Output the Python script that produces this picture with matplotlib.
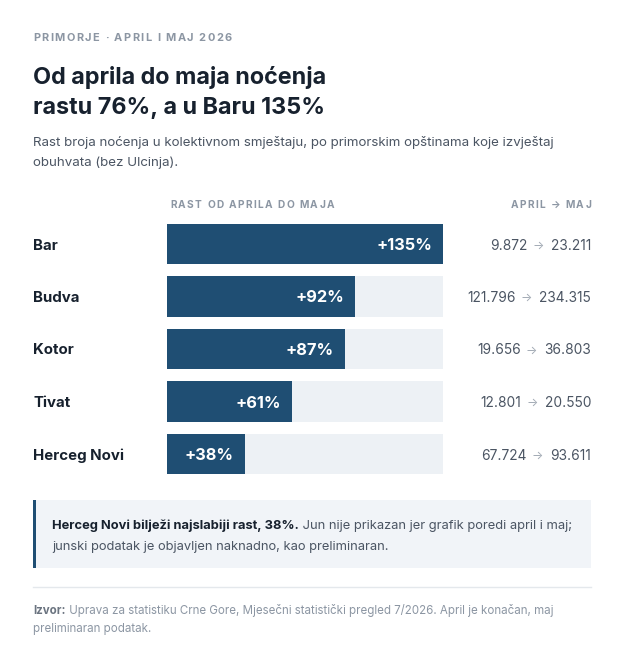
"""Noćenja na primorju: rast od aprila do maja 2026"""

import matplotlib

matplotlib.use("Agg")
import matplotlib.pyplot as plt
from matplotlib.patches import Rectangle
from matplotlib.transforms import blended_transform_factory

plt.rcParams["font.family"] = ["Inter", "DejaVu Sans"]

# Data
cities = ["Bar", "Budva", "Kotor", "Tivat", "Herceg Novi"]
april = [9872, 121796, 19656, 12801, 67724]
may = [23211, 234315, 36803, 20550, 93611]
growth = [round((m / a - 1) * 100) for a, m in zip(april, may)]

# Colours
DARK = "#17212e"
BAR = "#1f4e73"
TRACK = "#edf1f5"
GRAY = "#4b5563"
LIGHT = "#8c96a3"
BOX = "#f1f4f8"

W, H = 624, 659
fig = plt.figure(figsize=(W / 100, H / 100), dpi=100)
fig.patch.set_facecolor("white")

# overlay axes in pixel coordinates for layout text
page = fig.add_axes([0, 0, 1, 1])
page.set_xlim(0, W)
page.set_ylim(H, 0)
page.axis("off")


def px(v):
    return v * 0.72


def spaced(x, y, s, size, color, spacing, ha="left", weight="bold"):
    """Letter-spaced text, drawn one character at a time"""
    chars = s if ha == "left" else s[::-1]
    t = page.text(x, y, chars[0], fontsize=size, color=color, weight=weight,
                  ha=ha, va="baseline")
    for ch in chars[1:]:
        if ha == "left":
            t = page.annotate(ch, xy=(1, 0), xycoords=t, xytext=(px(spacing), 0),
                              textcoords="offset points", fontsize=size, color=color,
                              weight=weight, ha="left", va="bottom")
        else:
            t = page.annotate(ch, xy=(0, 0), xycoords=t, xytext=(-px(spacing), 0),
                              textcoords="offset points", fontsize=size, color=color,
                              weight=weight, ha="right", va="bottom")
    return t


# Header
spaced(33, 41, "PRIMORJE · APRIL I MAJ 2026", 7.9, LIGHT, 1.45)
page.text(33, 84, "Od aprila do maja noćenja", fontsize=16.8, weight="bold", color=DARK)
page.text(33, 114, "rastu 76%, a u Baru 135%", fontsize=16.8, weight="bold", color=DARK)
page.text(33, 146, "Rast broja noćenja u kolektivnom smještaju, po primorskim opštinama koje izvještaj",
          fontsize=9.6, color=GRAY)
page.text(33, 166, "obuhvata (bez Ulcinja).", fontsize=9.6, color=GRAY)

spaced(170, 208, "RAST OD APRILA DO MAJA", 7.3, LIGHT, 1.4)
spaced(591, 208, "APRIL → MAJ", 7.3, LIGHT, 1.4, ha="right")

# Bars
bar_left, bar_right = 167, 443
row_top, pitch = 244 - 52.5 / 2, 52.5
ax = fig.add_axes([bar_left / W, 1 - (row_top + pitch * len(cities)) / H,
                   (bar_right - bar_left) / W, pitch * len(cities) / H])
ax.set_xlim(0, max(growth))
ax.set_ylim(len(cities) - 0.5, -0.5)
ax.axis("off")

ypos = range(len(cities))
ax.barh(ypos, [max(growth)] * len(cities), height=40.5 / pitch, color=TRACK)
ax.barh(ypos, growth, height=40.5 / pitch, color=BAR)

label_tr = blended_transform_factory(page.transData, ax.transData)
for i, (city, g, a, m) in enumerate(zip(cities, growth, april, may)):
    ax.annotate(f"+{g}%", xy=(g, i), xytext=(-px(11), 0), textcoords="offset points",
                ha="right", va="center_baseline", color="white", weight="bold",
                fontsize=11.8)
    page.text(33, i, city, transform=label_tr, ha="left", va="center_baseline",
              fontsize=10.8, weight="bold", color=DARK)
    t = page.text(591, i, f"{m:,}".replace(",", "."), transform=label_tr,
                  ha="right", va="center_baseline", fontsize=9.9, color=GRAY)
    t = page.annotate("→", xy=(0, 0.5), xycoords=t, xytext=(-px(7), 0),
                      textcoords="offset points", ha="right", va="center",
                      fontsize=8.6, color="#a3abb5")
    page.annotate(f"{a:,}".replace(",", "."), xy=(0, 0.5), xycoords=t,
                  xytext=(-px(5), 0), textcoords="offset points", ha="right",
                  va="center", fontsize=9.9, color=GRAY)

# Callout
page.add_patch(Rectangle((33, 500), 558, 68, facecolor=BOX, edgecolor="none"))
page.add_patch(Rectangle((33, 500), 3, 68, facecolor=BAR, edgecolor="none"))
b = page.text(52, 529, "Herceg Novi bilježi najslabiji rast, 38%.", fontsize=9.3,
              weight="bold", color=DARK, va="baseline")
page.annotate(" Jun nije prikazan jer grafik poredi april i maj;", xy=(1, 0), xycoords=b,
              va="bottom", ha="left", fontsize=9.3, color=GRAY)
page.text(52, 550, "junski podatak je objavljen naknadno, kao preliminaran.",
          fontsize=9.3, color=GRAY, va="baseline")

# Footer
page.plot([33, 591], [587, 587], color="#e4e8ec", lw=1)
f = page.text(33, 614, "Izvor:", fontsize=8.3, weight="bold", color="#6b7480", va="baseline")
page.annotate(" Uprava za statistiku Crne Gore, Mjesečni statistički pregled 7/2026. April je konačan, maj",
              xy=(1, 0), xycoords=f, va="bottom", ha="left", fontsize=8.3, color=LIGHT)
page.text(33, 632, "preliminaran podatak.", fontsize=8.3, color=LIGHT, va="baseline")

fig.savefig("out.png", dpi=100, facecolor="white")
